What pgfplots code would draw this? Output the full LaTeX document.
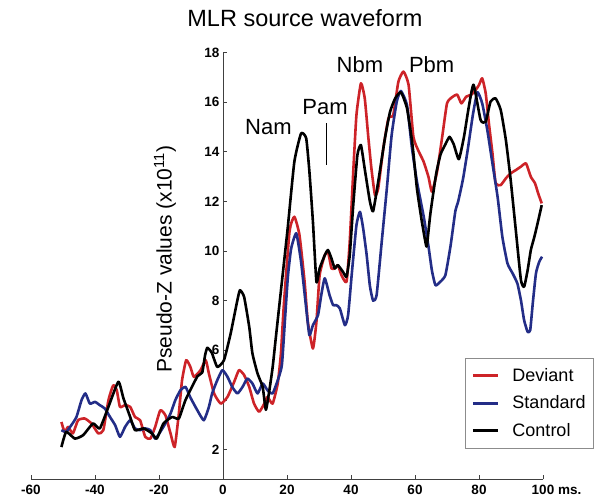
\documentclass[border=0pt]{standalone}
\usepackage{fontspec}
\setmainfont{Liberation Sans}
\usepackage{pgfplots}
\pgfplotsset{compat=1.18}
\definecolor{devred}{RGB}{205,35,40}
\definecolor{stdblue}{RGB}{35,45,135}
\begin{document}
\begin{tikzpicture}
\begin{axis}[
  at={(0,0)}, anchor=south west,
  scale only axis, width=512pt, height=426.8pt,
  xmin=-60, xmax=100, ymin=0.8, ymax=18,
  axis x line=bottom, axis y line=middle,
  axis line style={-, draw=black!75, line width=0.8pt},
  hide obscured x ticks=false, hide obscured y ticks=false,
  xtick={-60,-40,-20,0,20,40,60,80,100},
  xticklabels={-60,-40,-20,0,20,40,60,80,{100\rlap{ ms.}}},
  ytick={2,4,6,8,10,12,14,16,18},
  yticklabels={2,,6,8,10,12,14,16,18},
  tick align=inside,
  major tick length=4pt,
  tick style={black!75, line width=0.6pt},
  ticklabel style={font=\fontsize{13.5}{13.5}\selectfont\bfseries},
  xticklabel style={yshift=-2pt},
  /pgf/number format/assume math mode=true,
  clip=false,
  legend cell align=left,
  legend style={at={(rel axis cs:0.848,0.284)}, anchor=north west,
    draw=black!45, line width=0.6pt, inner xsep=6pt, inner ysep=8pt,
    row sep=9pt, font=\fontsize{18}{20}\selectfont,
    /tikz/every odd column/.append style={column sep=11pt}},
  legend image code/.code={\draw[#1, line width=3pt] (0pt,0pt) -- (25pt,0pt);},
  every axis plot/.append style={line width=2.6pt, line join=round},
]
\addplot[devred, smooth, tension=0.3] coordinates {
(-50.5,3.11)(-49.5,2.71)(-48.4,2.91)(-46.9,2.65)(-45.3,3.18)(-43.2,3.25)(-41.1,3.05)
(-39.0,2.65)(-37.4,2.78)(-35.8,3.99)(-34.3,4.59)(-33.2,4.39)(-32.2,3.72)(-30.6,3.79)
(-29.0,3.72)(-27.5,3.31)(-25.9,3.18)(-24.3,2.51)(-22.7,2.44)(-21.2,2.91)(-19.6,3.58)
(-18.0,3.38)(-16.4,2.65)(-15.1,2.10)(-13.8,3.45)(-12.8,4.79)(-11.5,5.6)(-10.2,5.33)
(-9.1,4.93)(-7.0,5.2)(-5.4,5.6)(-4.4,5.06)(-2.8,4.26)(-0.7,3.85)(1.4,4.12)(3.5,4.73)
(5.0,5.2)(6.6,5.0)(8.2,4.52)(9.7,3.85)(11.3,3.52)(12.9,3.85)(13.9,4.12)(15.5,3.85)
(17.1,4.66)(18.1,5.87)(19.0,7.8)(20.8,10.8)(22.3,11.38)(23.9,10.64)(25.5,8.76)
(26.5,7.15)(28.1,6.07)(29.2,7.15)(30.2,9.03)(31.8,9.83)(32.8,9.97)(33.9,9.3)(34.9,9.3)
(35.9,9.43)(37.0,9.03)(38.6,8.76)(39.6,10.37)(40.7,13.19)(41.7,15.48)(43.1,16.76)
(44.3,16.15)(45.4,14.6)(46.4,13.3)(47.5,12.25)(48.5,12.52)(50.1,14.14)(51.7,15.35)
(53.2,15.48)(54.8,16.82)(56.4,17.23)(58.0,16.69)(59.5,14.6)(61.1,14.03)(62.7,13.6)
(64.2,12.99)(65.3,12.39)(66.9,13.2)(68.5,14.6)(70.0,15.95)(71.6,16.2)(73.2,16.3)
(74.5,15.95)(76.0,16.22)(77.6,16.3)(79.0,16.5)(80.0,16.69)(81.0,16.96)(82.1,16.35)
(83.1,15.14)(84.2,13.94)(85.2,12.73)(86.8,12.66)(88.4,12.93)(89.9,13.13)(91.5,13.26)
(93.1,13.4)(94.7,13.53)(96.2,12.99)(97.5,12.73)(98.5,12.32)(99.6,11.92)
};
\addlegendentry{Deviant}
\addplot[stdblue, smooth, tension=0.3] coordinates {
(-50.5,2.78)(-49.0,2.71)(-47.4,2.98)(-45.8,3.31)(-44.2,3.99)(-43.0,4.26)(-41.6,3.85)
(-40.0,3.92)(-38.5,3.79)(-36.9,3.65)(-35.3,3.31)(-33.7,2.98)(-32.2,2.51)(-30.6,2.91)
(-29.0,3.18)(-27.5,2.85)(-25.9,2.78)(-24.3,2.85)(-22.7,2.78)(-21.2,2.44)(-19.6,2.71)
(-18.0,3.05)(-16.4,3.45)(-14.9,3.99)(-13.3,4.39)(-11.7,4.52)(-10.2,4.1)(-8.1,3.6)
(-6.0,3.18)(-4.4,3.72)(-3.4,4.26)(-1.8,4.79)(-0.2,5.2)(1.4,4.93)(2.9,4.52)(4.5,4.26)
(6.1,4.52)(7.6,4.86)(9.2,4.66)(10.8,4.26)(12.4,4.66)(13.9,4.39)(15.5,4.26)(17.1,4.79)
(18.4,5.4)(19.4,7.3)(20.3,9.0)(21.3,10.1)(22.9,10.71)(24.4,9.56)(26.0,7.69)(27.0,6.61)
(28.1,7.01)(29.7,7.42)(30.7,8.22)(31.8,8.9)(33.3,8.22)(34.4,7.82)(35.4,7.82)(36.5,7.69)
(38.1,7.01)(39.1,7.42)(40.3,9.16)(41.7,11.04)(42.8,11.58)(43.8,10.91)(44.9,9.83)
(45.9,8.6)(46.9,8.0)(48.0,8.22)(49.6,10.37)(51.2,12.52)(52.7,14.67)(54.3,16.02)
(55.6,16.45)(57.5,15.88)(59.0,14.2)(60.6,12.8)(62.7,11.4)(64.2,10.2)(65.3,9.2)
(66.4,8.62)(67.9,8.76)(69.5,9.03)(71.1,10.2)(72.6,11.6)(73.5,12.0)(75.0,12.9)(76.5,14.1)
(78.1,15.5)(79.5,16.4)(81.0,15.95)(82.6,14.87)(84.2,13.53)(85.8,12.19)(87.3,10.57)
(88.9,9.5)(90.5,9.1)(92.0,8.69)(93.1,8.02)(94.1,7.21)(95.2,6.74)(96.0,6.81)(96.8,7.89)
(97.8,9.1)(98.8,9.56)(99.7,9.77)
};
\addlegendentry{Standard}
\addplot[black, smooth, tension=0.3] coordinates {
(-50.5,2.10)(-49.0,2.71)(-46.3,2.44)(-43.7,2.58)(-40.6,3.05)(-38.5,2.85)(-35.8,3.72)
(-32.7,4.73)(-31.1,4.06)(-29.0,3.31)(-27.5,2.78)(-24.8,2.85)(-22.2,2.65)(-20.7,2.44)
(-18.6,3.05)(-15.9,3.31)(-13.8,3.25)(-11.7,4.0)(-8.0,4.95)(-6.5,5.1)(-5.6,5.8)(-4.9,6.1)
(-3.5,5.9)(-1.8,5.33)(0.3,5.6)(2.4,6.68)(4.5,8.02)(5.3,8.42)(6.6,8.15)(8.2,6.94)
(9.2,5.87)(10.8,5.06)(12.4,4.52)(13.4,3.6)(14.5,4.4)(15.5,5.3)(16.5,6.5)(18.1,8.4)
(20.2,10.9)(22.3,13.6)(24.4,14.74)(26.0,14.54)(27.0,13.2)(28.1,11.18)(29.2,8.76)
(30.2,9.3)(31.8,9.83)(32.8,10.04)(33.9,9.7)(34.9,9.3)(35.9,9.43)(37.5,9.16)(38.6,8.96)
(39.6,9.83)(40.7,11.85)(42.0,13.87)(43.1,14.27)(44.3,13.3)(45.9,12.0)(46.9,11.6)
(48.5,12.79)(50.6,14.54)(52.2,15.61)(53.8,16.15)(55.6,16.4)(57.5,15.75)(59.2,14.3)
(60.6,12.52)(62.0,11.3)(63.2,10.4)(63.7,10.2)(64.8,11.5)(66.6,13.1)(68.0,13.9)
(69.5,14.3)(70.8,14.6)(72.1,14.3)(73.7,13.7)(75.3,14.6)(76.8,15.8)(78.3,16.7)
(80.5,15.28)(82.1,15.21)(83.6,16.02)(85.2,16.15)(86.8,15.68)(88.4,14.47)(89.9,12.86)
(91.5,10.84)(93.1,8.83)(94.1,8.56)(95.2,9.23)(96.2,10.04)(97.3,10.57)(98.3,11.11)
(99.6,11.85)
};
\addlegendentry{Control}
\draw[black, line width=0.9pt] (axis cs:32.4,13.47) -- (axis cs:32.4,15.15);
\node[font=\fontsize{22}{22}\selectfont] at (axis cs:14.2,15.0) {Nam};
\node[font=\fontsize{22}{22}\selectfont] at (axis cs:31.9,15.8) {Pam};
\node[font=\fontsize{22}{22}\selectfont] at (axis cs:42.8,17.5) {Nbm};
\node[font=\fontsize{22}{22}\selectfont] at (axis cs:65.2,17.5) {Pbm};
\node[font=\fontsize{23.5}{23.5}\selectfont] at (axis cs:25.6,19.39) {MLR source waveform};
\node[rotate=90, font=\fontsize{21}{21}\selectfont] at (axis cs:-18.1,9.67) {Pseudo-Z values (x10\textsuperscript{11})};
\end{axis}
\pgfresetboundingbox
\path[use as bounding box] (-31pt,-21.7pt) rectangle (574pt,479.3pt);
\end{tikzpicture}
\end{document}
